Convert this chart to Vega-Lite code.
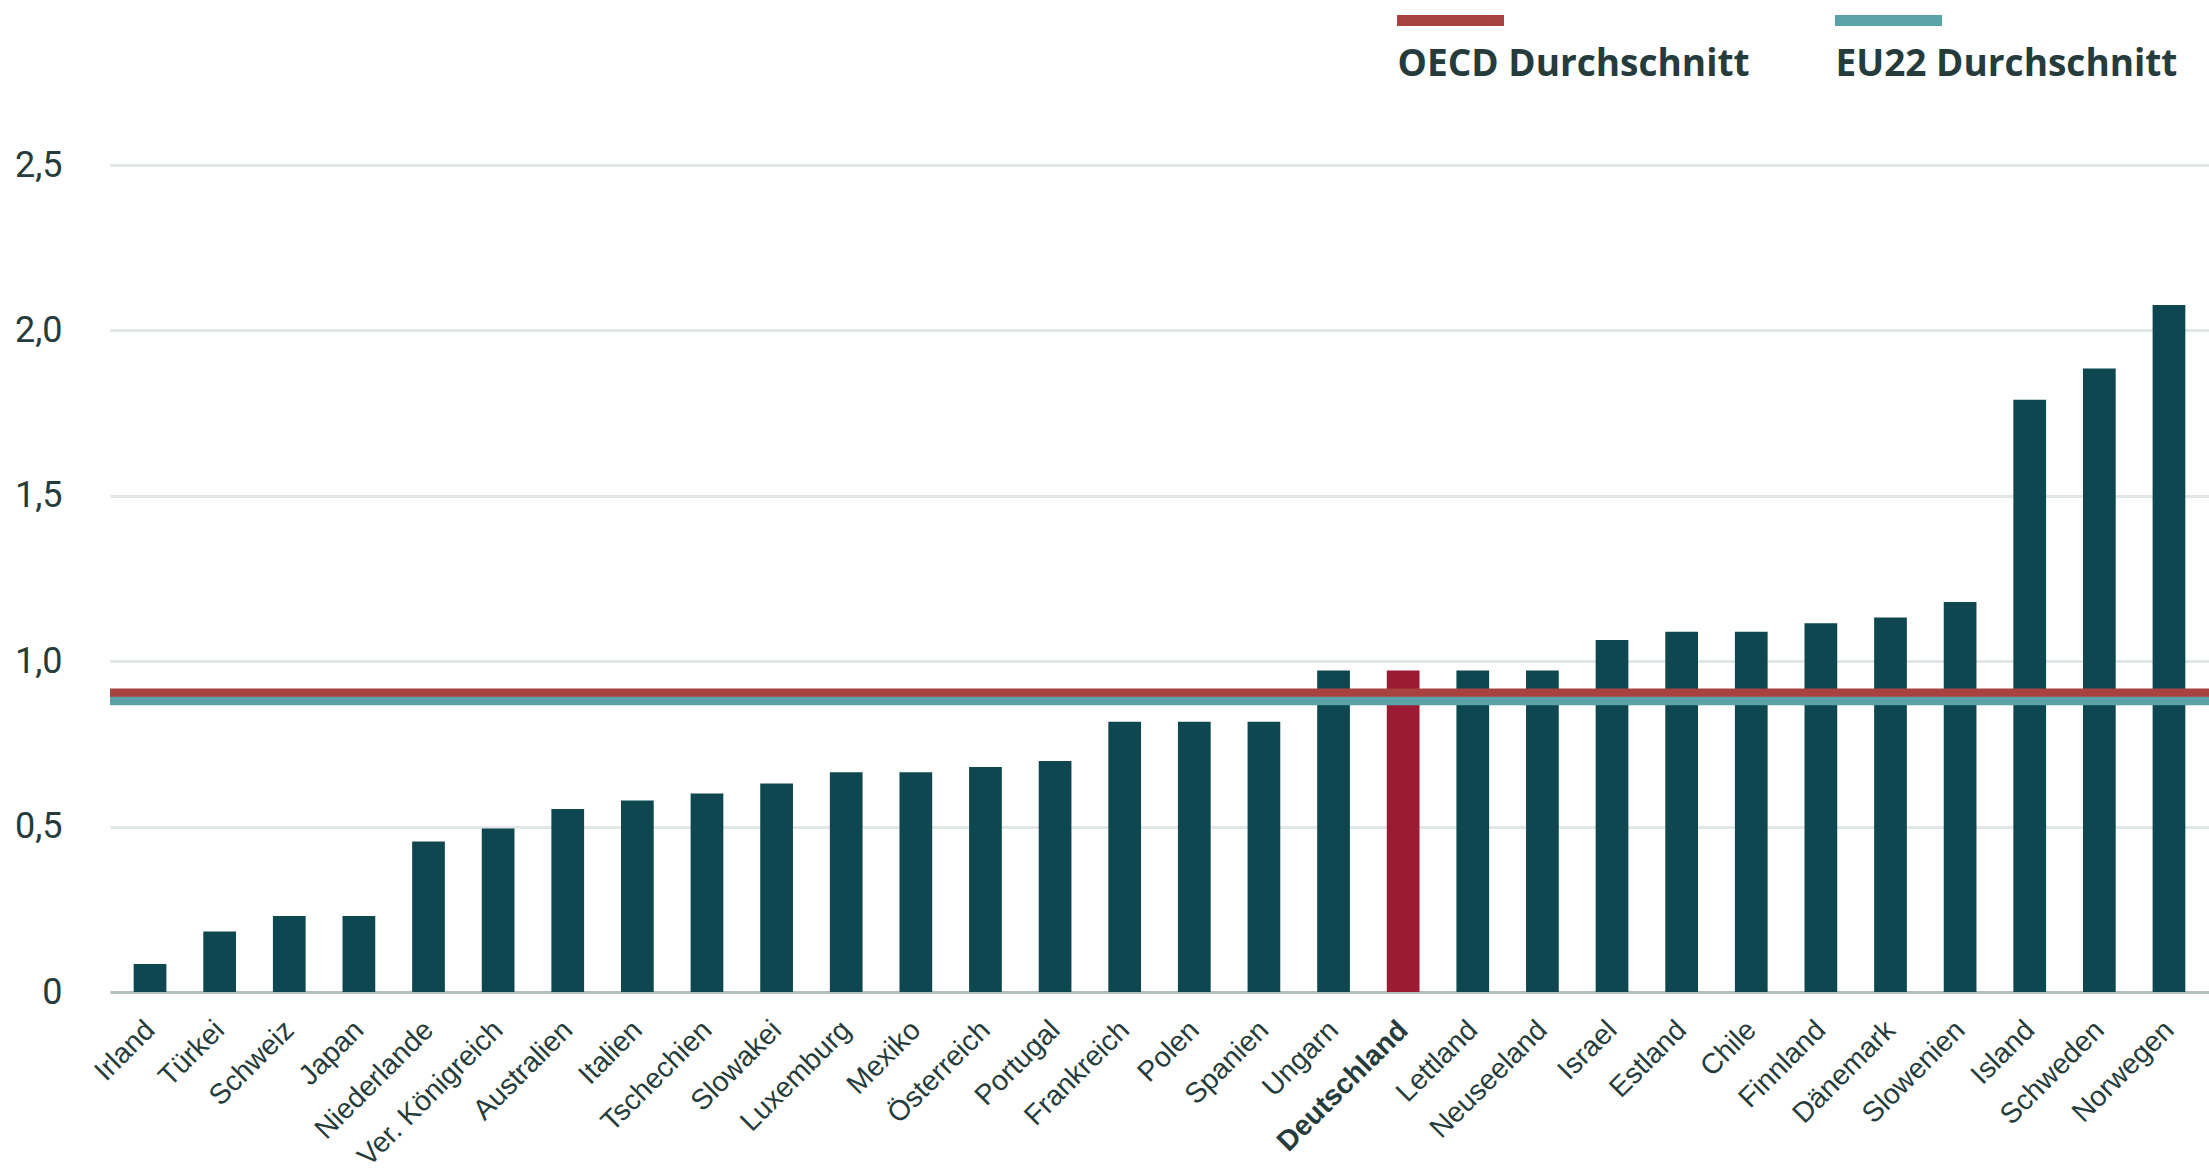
{
  "$schema": "https://vega.github.io/schema/vega-lite/v6.json",
  "width": 2099,
  "height": 827,
  "autosize": {"type": "none"},
  "padding": {"left": 110, "top": 165, "right": 0, "bottom": 180},
  "background": "#ffffff",
  "config": {
    "view": {"stroke": null},
    "axis": {"labelColor": "#263b3b", "domain": false, "ticks": false}
  },
  "layer": [
    {
      "data": {"values": [
        {"land": "Irland", "wert": 0.085},
        {"land": "Türkei", "wert": 0.183},
        {"land": "Schweiz", "wert": 0.23},
        {"land": "Japan", "wert": 0.23},
        {"land": "Niederlande", "wert": 0.455},
        {"land": "Ver. Königreich", "wert": 0.494},
        {"land": "Australien", "wert": 0.553},
        {"land": "Italien", "wert": 0.579},
        {"land": "Tschechien", "wert": 0.6},
        {"land": "Slowakei", "wert": 0.63},
        {"land": "Luxemburg", "wert": 0.664},
        {"land": "Mexiko", "wert": 0.664},
        {"land": "Österreich", "wert": 0.68},
        {"land": "Portugal", "wert": 0.698},
        {"land": "Frankreich", "wert": 0.817},
        {"land": "Polen", "wert": 0.817},
        {"land": "Spanien", "wert": 0.817},
        {"land": "Ungarn", "wert": 0.972},
        {"land": "Deutschland", "wert": 0.972},
        {"land": "Lettland", "wert": 0.972},
        {"land": "Neuseeland", "wert": 0.972},
        {"land": "Israel", "wert": 1.064},
        {"land": "Estland", "wert": 1.089},
        {"land": "Chile", "wert": 1.089},
        {"land": "Finnland", "wert": 1.115},
        {"land": "Dänemark", "wert": 1.132},
        {"land": "Slowenien", "wert": 1.179},
        {"land": "Island", "wert": 1.79},
        {"land": "Schweden", "wert": 1.885},
        {"land": "Norwegen", "wert": 2.077}
      ]},
      "mark": {"type": "bar"},
      "encoding": {
        "x": {
          "field": "land", "type": "nominal", "sort": null,
          "scale": {"paddingInner": 0.53, "paddingOuter": 0.34},
          "axis": {
            "title": null,
            "labelAngle": -45,
            "labelAlign": "right",
            "labelBaseline": "middle",
            "labelPadding": 33,
            "labelFont": "Liberation Sans",
            "labelFontSize": 28.5,
            "labelFontWeight": {"condition": {"test": "datum.value === 'Deutschland'", "value": "bold"}, "value": "normal"},
            "labelOverlap": false,
            "labelLimit": 400,
            "grid": false
          }
        },
        "y": {
          "field": "wert", "type": "quantitative",
          "scale": {"domain": [0, 2.5], "nice": false},
          "axis": {
            "title": null,
            "values": [0, 0.5, 1, 1.5, 2, 2.5],
            "labelExpr": "datum.value === 0 ? '0' : replace(format(datum.value, '.1f'), '.', ',')",
            "labelFont": "Roboto",
            "labelFontSize": 36,
            "labelPadding": 48,
            "grid": true,
            "gridWidth": 3,
            "gridColor": {"condition": {"test": "datum.value === 0", "value": "#b4bfbf"}, "value": "#e1e7e7"}
          }
        },
        "color": {
          "condition": {"test": "datum.land === 'Deutschland'", "value": "#9b1b34"},
          "value": "#0e4750"
        }
      }
    },
    {
      "data": {"values": [
        {"name": "OECD Durchschnitt", "wert": 0.905},
        {"name": "EU22 Durchschnitt", "wert": 0.88}
      ]},
      "mark": {"type": "rule", "strokeWidth": 8.5},
      "encoding": {
        "y": {"field": "wert", "type": "quantitative"},
        "color": {
          "field": "name", "type": "nominal",
          "scale": {"domain": ["OECD Durchschnitt", "EU22 Durchschnitt"], "range": ["#a84240", "#5ba1a8"]},
          "legend": {
            "orient": "none",
            "legendX": 1281.5,
            "legendY": -148,
            "direction": "horizontal",
            "title": null,
            "padding": 0,
            "symbolType": "M-1,-1.037H1",
            "symbolSize": 11449,
            "symbolStrokeWidth": 11,
            "labelOffset": -112,
            "labelBaseline": "alphabetic",
            "labelFont": "Open Sans",
            "labelFontSize": 37,
            "labelFontWeight": "bold",
            "labelColor": "#263b3b",
            "labelLimit": 600,
            "columnPadding": 62
          }
        }
      }
    }
  ]
}
